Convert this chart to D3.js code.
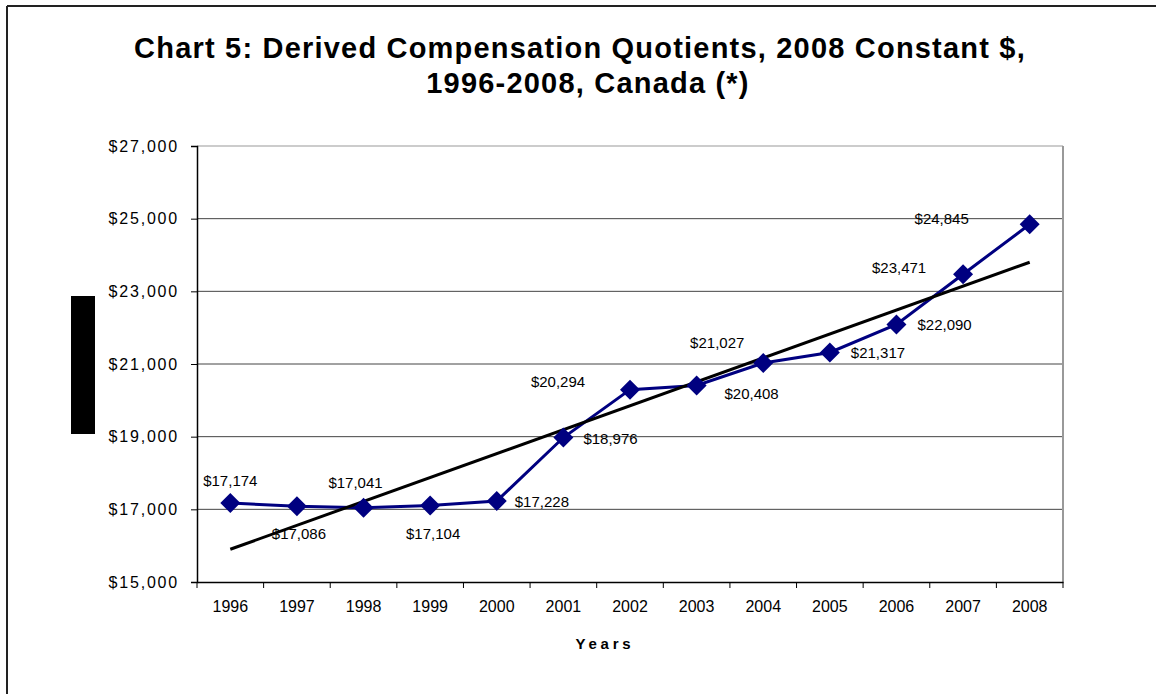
<!DOCTYPE html>
<html>
<head>
<meta charset="utf-8">
<script src="https://cdn.jsdelivr.net/npm/d3@7"></script>
<style>
  html, body { margin: 0; padding: 0; background: #fff; }
  svg { display: block; font-family: "Liberation Sans", Arial, sans-serif; }
</style>
</head>
<body>
<svg id="chart" width="1156" height="694"></svg>
<script>
// data
const years = ["1996", "1997", "1998", "1999", "2000", "2001", "2002",
               "2003", "2004", "2005", "2006", "2007", "2008"];
const quotients = [17174, 17086, 17041, 17104, 17228, 18976, 20294,
                   20408, 21027, 21317, 22090, 23471, 24845];
// linear trendline end values (first and last year)
const trendEnds = [15901, 23801];
const yTicks = [15000, 17000, 19000, 21000, 23000, 25000, 27000];

// where each data label sits relative to its marker
const labelPlace = [
  { dx: 0, dy: -22, anchor: "middle" },
  { dx: 2, dy: 28, anchor: "middle" },
  { dx: -8, dy: -25, anchor: "middle" },
  { dx: 3, dy: 28, anchor: "middle" },
  { dx: 18, dy: 1, anchor: "start" },
  { dx: 20, dy: 1, anchor: "start" },
  { dx: -72, dy: -8, anchor: "middle" },
  { dx: 55, dy: 8, anchor: "middle" },
  { dx: -46, dy: -20, anchor: "middle" },
  { dx: 21, dy: 0, anchor: "start" },
  { dx: 21, dy: 0, anchor: "start" },
  { dx: -64, dy: -6, anchor: "middle" },
  { dx: -88, dy: -6, anchor: "middle" }
];

const svg = d3.select("#chart");
const plot = { left: 197, right: 1063, top: 146, bottom: 582 };
const money = d => "$" + d3.format(",")(d);

// outer chart frame (only left and top edges are visible)
svg.append("line").attr("x1", 7).attr("y1", 6).attr("x2", 1156).attr("y2", 6)
  .attr("stroke", "#222").attr("stroke-width", 2);
svg.append("line").attr("x1", 7).attr("y1", 6).attr("x2", 7).attr("y2", 694)
  .attr("stroke", "#222").attr("stroke-width", 2);

// title
const title = svg.append("text")
  .attr("text-anchor", "middle")
  .attr("font-size", 29).attr("font-weight", "bold")
  .attr("letter-spacing", 1.2)
  .attr("fill", "#000");
title.append("tspan").attr("x", 580).attr("y", 58)
  .text("Chart 5: Derived Compensation Quotients, 2008 Constant $,");
title.append("tspan").attr("x", 588).attr("y", 93)
  .text("1996-2008, Canada (*)");

const x = d3.scaleBand().domain(years).range([plot.left, plot.right]);
const y = d3.scaleLinear().domain([15000, 27000]).range([plot.bottom, plot.top]);
const cx = d => x(d) + x.bandwidth() / 2;

// gridlines
svg.append("g").selectAll("line")
  .data(yTicks.filter(t => t > 15000))
  .join("line")
  .attr("x1", plot.left).attr("x2", plot.right)
  .attr("y1", d => y(d)).attr("y2", d => y(d))
  .attr("stroke", d => d === 27000 ? "#999" : "#444")
  .attr("stroke-width", 1);

// right border of plot area
svg.append("line")
  .attr("x1", plot.right).attr("x2", plot.right)
  .attr("y1", plot.top).attr("y2", plot.bottom)
  .attr("stroke", "#999").attr("stroke-width", 2);

// y axis
const yAxis = svg.append("g")
  .attr("transform", `translate(${plot.left},0)`)
  .call(d3.axisLeft(y).tickValues(yTicks).tickSize(6).tickPadding(12)
    .tickFormat(money));
yAxis.select(".domain").attr("stroke", "#000").attr("stroke-width", 1.5);
yAxis.selectAll(".tick line").attr("stroke", "#000");
yAxis.selectAll(".tick text").attr("font-size", 16).attr("fill", "#000")
  .attr("letter-spacing", 1.8)
  .attr("font-family", "Liberation Sans, Arial, sans-serif");

// x axis (ticks between categories)
const xAxis = svg.append("g")
  .attr("transform", `translate(0,${plot.bottom})`)
  .call(d3.axisBottom(x).tickSize(0).tickPadding(19));
xAxis.select(".domain").attr("stroke", "#000").attr("stroke-width", 1.5);
xAxis.selectAll(".tick text").attr("font-size", 16).attr("fill", "#000")
  .attr("font-family", "Liberation Sans, Arial, sans-serif");
svg.append("g").selectAll("line")
  .data(years.concat(["end"]))
  .join("line")
  .attr("x1", (d, i) => plot.left + i * x.bandwidth())
  .attr("x2", (d, i) => plot.left + i * x.bandwidth())
  .attr("y1", plot.bottom).attr("y2", plot.bottom + 6)
  .attr("stroke", "#000");

// x axis title
svg.append("text")
  .attr("x", 605).attr("y", 649)
  .attr("text-anchor", "middle")
  .attr("font-size", 15).attr("font-weight", "bold")
  .attr("letter-spacing", 3.8)
  .text("Years");

// y axis title is blacked out in the source
svg.append("rect")
  .attr("x", 71).attr("y", 296).attr("width", 24).attr("height", 138)
  .attr("fill", "#000");

// series line
svg.append("path")
  .datum(quotients)
  .attr("fill", "none")
  .attr("stroke", "#000080")
  .attr("stroke-width", 3)
  .attr("d", d3.line().x((d, i) => cx(years[i])).y(d => y(d)));

// trendline
svg.append("line")
  .attr("x1", cx(years[0])).attr("y1", y(trendEnds[0]))
  .attr("x2", cx(years[years.length - 1])).attr("y2", y(trendEnds[1]))
  .attr("stroke", "#000").attr("stroke-width", 3);

// diamond markers
svg.append("g").selectAll("path")
  .data(quotients)
  .join("path")
  .attr("transform", (d, i) => `translate(${cx(years[i])},${y(d)})`)
  .attr("d", "M0,-10 L10,0 L0,10 L-10,0 Z")
  .attr("fill", "#000080");

// data labels
svg.append("g").selectAll("text")
  .data(quotients)
  .join("text")
  .attr("x", (d, i) => cx(years[i]) + labelPlace[i].dx)
  .attr("y", (d, i) => y(d) + labelPlace[i].dy)
  .attr("dy", "0.35em")
  .attr("text-anchor", (d, i) => labelPlace[i].anchor)
  .attr("font-size", 15)
  .attr("fill", "#000")
  .text(money);
</script>
</body>
</html>
